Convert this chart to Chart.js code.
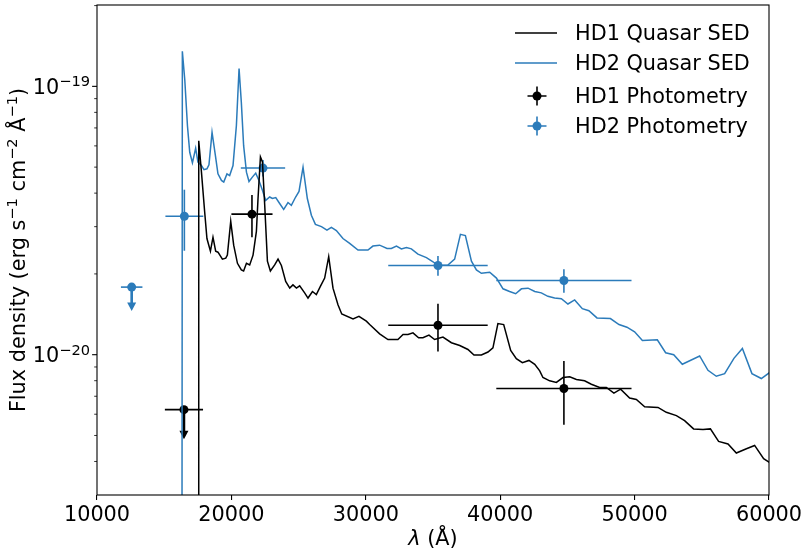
<!DOCTYPE html>
<html lang="en">
<head>
  <meta charset="UTF-8">
  <title>Quasar SED</title>
  <script src="https://cdn.jsdelivr.net/npm/chart.js"></script>
  <style>
    html, body { margin: 0; padding: 0; background: #fff; }
  </style>
</head>
<body>
  <canvas id="sed" width="810" height="554"></canvas>

  <script>
    // Flux densities are in units of 1e-20 erg s^-1 cm^-2 A^-1, wavelengths in Angstrom
    const hd1Wave = [17560, 17570, 17770, 18010, 18180, 18440, 18630, 18830, 19000, 19330, 19580, 19700, 19950, 20170, 20450,
      20740, 20910, 21120, 21360, 21610, 21860, 21980, 22160, 22310, 22480, 22680, 22900, 23220, 23470, 23720, 24040, 24340,
      24580, 24840, 25080, 25450, 25700, 26030, 26320, 26620, 26940, 27240, 27560, 27930, 28210, 29050, 29490, 30040, 30290,
      31030, 31650, 32390, 32770, 33140, 33510, 33930, 34250, 34700, 35120, 35740, 36370, 36990, 37600, 38050, 38600, 39090,
      39460, 39830, 40260, 40780, 41200, 41650, 42140, 42570, 42940, 43180, 43680, 44180, 44670, 45170, 45670, 46280, 46780,
      47400, 47900, 48460, 48960, 49630, 50130, 50750, 51740, 52360, 53110, 53720, 54390, 55090, 55640, 56250, 56950, 57570,
      58320, 58930, 59600, 60050];
    const hd1Flux = [0.1, 6.27, 4.80, 3.41, 2.71, 2.43, 2.74, 2.43, 2.41, 2.27, 2.29, 2.35, 3.14, 2.56, 2.19,
      2.07, 2.05, 2.19, 2.16, 2.35, 2.88, 3.81, 5.46, 5.23, 3.60, 2.23, 2.05, 2.16, 2.27, 2.15, 1.875, 1.77,
      1.82, 1.77, 1.806, 1.70, 1.626, 1.72, 1.675, 1.797, 1.93, 2.32, 1.77, 1.536, 1.419, 1.36, 1.39, 1.333, 1.295,
      1.196, 1.139, 1.139, 1.189, 1.189, 1.206, 1.156, 1.156, 1.183, 1.139, 1.163, 1.108, 1.082, 1.046, 0.997, 0.997, 1.023,
      1.061, 1.306, 1.295, 1.037, 0.967, 0.934, 0.952, 0.921, 0.870, 0.822, 0.799, 0.788, 0.822, 0.827, 0.808, 0.799, 0.776,
      0.755, 0.755, 0.719, 0.744, 0.689, 0.681, 0.640, 0.636, 0.610, 0.593, 0.568, 0.529, 0.526, 0.529, 0.475, 0.465, 0.430,
      0.446, 0.459, 0.410, 0.396];

    const hd2Wave = [16320, 16350, 16530, 16730, 16900, 17100, 17340, 17510, 17770, 17960, 18180, 18330, 18560, 18810, 19000,
      19260, 19430, 19670, 19870, 20120, 20370, 20570, 20740, 20910, 21120, 21310, 21560, 21810, 22050, 22310, 22550, 22850,
      23050, 23300, 23590, 23890, 24210, 24460, 24780, 25030, 25330, 25650, 25950, 26250, 26700, 27110, 27440, 27810, 28300,
      28800, 29420, 30160, 30530, 31030, 31580, 31900, 32280, 32650, 33020, 33390, 33880, 34510, 35000, 35370, 36110, 36610,
      37040, 37410, 37860, 38230, 38600, 39220, 39720, 40210, 40700, 41150, 41580, 42070, 42570, 43060, 43550, 44050, 44550,
      45040, 45540, 46110, 46600, 47200, 48200, 48840, 49430, 50000, 50580, 51690, 52310, 52910, 53550, 54840, 55460, 56080,
      56700, 57390, 58020, 58730, 59430, 60050];
    const hd2Flux = [0.1, 13.51, 10.61, 7.13, 5.68, 5.19, 5.88, 5.22, 5.07, 4.89, 4.93, 5.10, 6.74, 5.52, 4.72,
      4.46, 4.40, 4.72, 4.65, 5.07, 7.13, 11.66, 8.70, 6.01, 4.79, 4.42, 4.59, 4.75, 4.46, 4.10, 3.76, 3.87,
      3.82, 3.85, 3.66, 3.48, 3.69, 3.60, 3.87, 4.06, 5.00, 3.82, 3.31, 3.06, 3.00, 2.91, 2.98, 2.90, 2.71,
      2.60, 2.455, 2.455, 2.54, 2.56, 2.49, 2.49, 2.54, 2.48, 2.51, 2.48, 2.37, 2.30, 2.22, 2.15, 2.16, 2.27,
      2.81, 2.78, 2.23, 2.07, 2.01, 2.03, 1.93, 1.76, 1.72, 1.687, 1.76, 1.77, 1.72, 1.70, 1.65, 1.626, 1.616,
      1.545, 1.60, 1.484, 1.459, 1.371, 1.363, 1.295, 1.266, 1.217, 1.130, 1.137, 1.017, 1.0, 0.921, 0.989, 0.875, 0.831,
      0.850, 0.969, 1.055, 0.850, 0.815, 0.858];

    // photometry (upper limits: the flux error is the arrow length)
    const hd1PhotWave = [16470, 21530, 35370, 44740];
    const hd1PhotWaveErr = [1420, 1530, 3700, 5030];
    const hd1PhotFlux = [0.624, 3.34, 1.288, 0.748];
    const hd1PhotFluxErr = [0.14, 0.6, 0.26, 0.2];
    const hd1UpperLim = [true, false, false, false];

    const hd2PhotWave = [12580, 16500, 22350, 35370, 44740];
    const hd2PhotWaveErr = [800, 1410, 1650, 3700, 5030];
    const hd2PhotFlux = [1.786, 3.28, 4.96, 2.15, 1.89];
    const hd2PhotFluxErr = [0.33, 0.84, 0.35, 0.18, 0.19];
    const hd2UpperLim = [true, false, false, false, false];

    const xTicks = [10000, 20000, 30000, 40000, 50000, 60000];
    const yMajorTicks = [1, 10];
    const yMajorExp = ['\u221220', '\u221219'];
    const yMinorTicks = [0.4, 0.5, 0.6, 0.7, 0.8, 0.9, 2, 3, 4, 5, 6, 7, 8, 9, 20];

    const FONT = '"DejaVu Sans", sans-serif';
    const BASE = 20.8, SUP = 14.6, RAISE = 7.6;
    const BLUE = '#2b7bba';

    const toPts = (xs, ys) => xs.map((x, i) => ({ x: x, y: ys[i] }));

    const phot = {
      2: { wave: hd1PhotWave, werr: hd1PhotWaveErr, flux: hd1PhotFlux, ferr: hd1PhotFluxErr, up: hd1UpperLim, color: '#000' },
      3: { wave: hd2PhotWave, werr: hd2PhotWaveErr, flux: hd2PhotFlux, ferr: hd2PhotFluxErr, up: hd2UpperLim, color: BLUE }
    };

    // text with superscripts: parts = [[text, isSup], ...]
    function richText(ctx, parts, x, y, align) {
      let w = 0;
      parts.forEach(p => { ctx.font = (p[1] ? SUP : BASE) + 'px ' + FONT; w += ctx.measureText(p[0]).width; });
      let cx = align === 'right' ? x - w : (align === 'center' ? x - w / 2 : x);
      ctx.textAlign = 'left';
      ctx.textBaseline = 'alphabetic';
      parts.forEach(p => {
        ctx.font = (p[1] ? SUP : BASE) + 'px ' + FONT;
        ctx.fillText(p[0], cx, p[1] ? y - RAISE : y);
        cx += ctx.measureText(p[0]).width;
      });
    }

    function drawErrMarker(ctx, x, y, color) {
      ctx.strokeStyle = color;
      ctx.fillStyle = color;
      ctx.lineWidth = 1.6;
      ctx.beginPath();
      ctx.moveTo(x - 9.5, y); ctx.lineTo(x + 9.5, y);
      ctx.moveTo(x, y - 9.5); ctx.lineTo(x, y + 9.5);
      ctx.stroke();
      ctx.beginPath();
      ctx.arc(x, y, 4.5, 0, Math.PI * 2);
      ctx.fill();
    }

    const errorBars = {
      id: 'errorBars',
      beforeDatasetDraw(chart, args) {
        const p = phot[args.index];
        if (!p) return;
        const ctx = chart.ctx, xs = chart.scales.x, ys = chart.scales.y;
        ctx.save();
        ctx.strokeStyle = p.color;
        ctx.fillStyle = p.color;
        p.wave.forEach((w, i) => {
          const px = xs.getPixelForValue(w), py = ys.getPixelForValue(p.flux[i]);
          ctx.lineWidth = 1.6;
          ctx.beginPath();
          ctx.moveTo(xs.getPixelForValue(w - p.werr[i]), py);
          ctx.lineTo(xs.getPixelForValue(w + p.werr[i]), py);
          ctx.stroke();
          if (p.up[i]) {
            const tip = ys.getPixelForValue(p.flux[i] - p.ferr[i]);
            ctx.lineWidth = 2.6;
            ctx.beginPath();
            ctx.moveTo(px, py);
            ctx.lineTo(px, tip - 6);
            ctx.stroke();
            ctx.beginPath();
            ctx.moveTo(px - 4.5, tip - 8.5);
            ctx.lineTo(px + 4.5, tip - 8.5);
            ctx.lineTo(px, tip);
            ctx.closePath();
            ctx.fill();
          } else {
            ctx.beginPath();
            ctx.moveTo(px, ys.getPixelForValue(p.flux[i] - p.ferr[i]));
            ctx.lineTo(px, ys.getPixelForValue(p.flux[i] + p.ferr[i]));
            ctx.stroke();
          }
        });
        ctx.restore();
      }
    };

    const decorations = {
      id: 'decorations',
      afterDraw(chart) {
        const ctx = chart.ctx, a = chart.chartArea, ys = chart.scales.y;
        ctx.save();
        ctx.strokeStyle = '#000';
        ctx.fillStyle = '#000';
        ctx.lineWidth = 1.1;
        ctx.strokeRect(a.left, a.top, a.right - a.left, a.bottom - a.top);

        // y ticks
        yMajorTicks.forEach((v, i) => {
          const y = ys.getPixelForValue(v);
          ctx.beginPath(); ctx.moveTo(a.left, y); ctx.lineTo(a.left - 4.9, y); ctx.stroke();
          richText(ctx, [['10', false], [yMajorExp[i], true]], a.left - 7, y + 7.6, 'right');
        });
        ctx.lineWidth = 0.8;
        yMinorTicks.forEach(v => {
          const y = ys.getPixelForValue(v);
          if (y < a.top || y > a.bottom) return;
          ctx.beginPath(); ctx.moveTo(a.left, y); ctx.lineTo(a.left - 2.8, y); ctx.stroke();
        });

        // axis titles
        ctx.save();
        ctx.translate(25, (a.top + a.bottom) / 2);
        ctx.rotate(-Math.PI / 2);
        richText(ctx, [['Flux density (erg s', false], ['\u22121', true], [' cm', false], ['\u22122', true],
          [' \u00c5', false], ['\u22121', true], [')', false]], 0, 0, 'center');
        ctx.restore();

        ctx.font = BASE + 'px ' + FONT;
        const rest = ' (\u00c5)';
        const wRest = ctx.measureText(rest).width;
        ctx.font = 'oblique ' + BASE + 'px ' + FONT;
        const wLam = ctx.measureText('\u03bb').width;
        let cx = (a.left + a.right) / 2 - (wRest + wLam) / 2;
        ctx.textAlign = 'left';
        ctx.textBaseline = 'alphabetic';
        ctx.fillText('\u03bb', cx, 545);
        ctx.font = BASE + 'px ' + FONT;
        ctx.fillText(rest, cx + wLam, 545);

        // legend
        const rows = [33, 63, 96, 126];
        ctx.lineWidth = 1.5;
        ctx.strokeStyle = '#000';
        ctx.beginPath(); ctx.moveTo(515, rows[0]); ctx.lineTo(557, rows[0]); ctx.stroke();
        ctx.strokeStyle = BLUE;
        ctx.beginPath(); ctx.moveTo(515, rows[1]); ctx.lineTo(557, rows[1]); ctx.stroke();
        drawErrMarker(ctx, 537, rows[2], '#000');
        drawErrMarker(ctx, 537, rows[3], BLUE);
        ctx.fillStyle = '#000';
        ctx.font = BASE + 'px ' + FONT;
        chart.data.datasets.forEach((d, i) => {
          ctx.fillText(d.label, 575, rows[i] + 7.4);
        });
        ctx.restore();
      }
    };

    new Chart(document.getElementById('sed'), {
      type: 'line',
      data: {
        datasets: [{
          label: 'HD1 Quasar SED',
          data: toPts(hd1Wave, hd1Flux),
          borderColor: '#000',
          borderWidth: 1.5,
          pointRadius: 0,
          tension: 0,
          fill: false
        }, {
          label: 'HD2 Quasar SED',
          data: toPts(hd2Wave, hd2Flux),
          borderColor: BLUE,
          borderWidth: 1.5,
          pointRadius: 0,
          tension: 0,
          fill: false
        }, {
          type: 'scatter',
          label: 'HD1 Photometry',
          data: toPts(hd1PhotWave, hd1PhotFlux),
          showLine: false,
          pointRadius: 4.5,
          pointBorderWidth: 0,
          pointBackgroundColor: '#000'
        }, {
          type: 'scatter',
          label: 'HD2 Photometry',
          data: toPts(hd2PhotWave, hd2PhotFlux),
          showLine: false,
          pointRadius: 4.5,
          pointBorderWidth: 0,
          pointBackgroundColor: BLUE
        }]
      },
      options: {
        responsive: false,
        animation: false,
        events: [],
        layout: { padding: { top: 5, right: 41, left: 0, bottom: 0 } },
        plugins: {
          legend: { display: false },
          tooltip: { enabled: false }
        },
        scales: {
          x: {
            type: 'linear',
            min: 10000,
            max: 60000,
            afterFit: s => { s.height = 59; },
            afterBuildTicks: s => { s.ticks = xTicks.map(v => ({ value: v })); },
            ticks: {
              color: '#000',
              font: { family: FONT, size: BASE },
              padding: 3,
              maxRotation: 0,
              autoSkip: false,
              callback: v => String(v)
            },
            grid: { drawOnChartArea: false, tickLength: 5, color: '#000', lineWidth: 1.1 },
            border: { display: false }
          },
          y: {
            type: 'logarithmic',
            min: 0.31,
            max: 20.1,
            afterFit: s => { s.width = 97; },
            ticks: { display: false },
            grid: { display: false },
            border: { display: false }
          }
        }
      },
      plugins: [errorBars, decorations]
    });
  </script>
</body>
</html>
